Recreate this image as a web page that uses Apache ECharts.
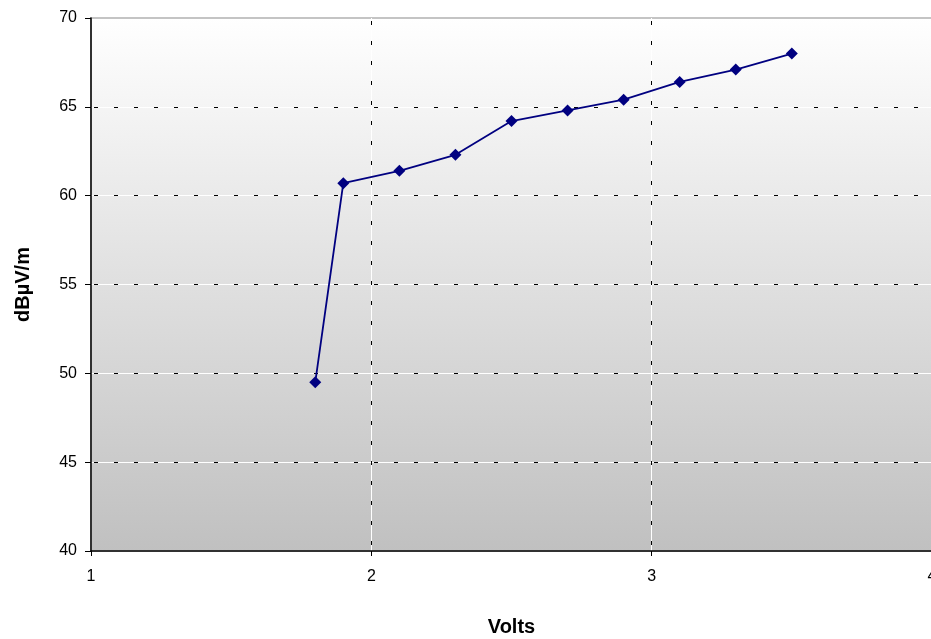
<!DOCTYPE html>
<html><head><meta charset="utf-8">
<script src="https://cdn.jsdelivr.net/npm/echarts@6/dist/echarts.min.js"></script>
<style>html,body{margin:0;padding:0;background:#fff}#c{width:931px;height:639px}</style>
</head><body><div id="c"></div>
<script>
const volts = [1.8, 1.9, 2.1, 2.3, 2.5, 2.7, 2.9, 3.1, 3.3, 3.5];
const dbuv = [49.5, 60.7, 61.4, 62.3, 64.2, 64.8, 65.4, 66.4, 67.1, 68.0];
const xTitle = 'Volts';
const yTitle = 'dBµV/m';

const chart = echarts.init(document.getElementById('c'));
const font = 'Liberation Sans, Arial, sans-serif';
const baseX = {type:'value', min:1, max:4, interval:1};
const baseY = {type:'value', min:40, max:70, interval:5};
chart.setOption({
  animation:false,
  grid:{left:91, top:18, right:-1, bottom:88, show:true, borderWidth:2, borderColor:'#c4c4c4',
    outerBoundsMode:'none', containLabel:false,
    backgroundColor:{type:'linear',x:0,y:0,x2:0,y2:1,colorStops:[{offset:0,color:'#ffffff'},{offset:1,color:'#c0c0c0'}]}},
  xAxis:[
    Object.assign({}, baseX, {
      name:xTitle, nameLocation:'middle', nameGap:66,
      nameTextStyle:{fontFamily:font, fontSize:20, fontWeight:'bold', color:'#000'},
      axisLine:{show:true, onZero:false, lineStyle:{color:'#000', width:1.5}},
      axisTick:{show:true, length:5, lineStyle:{color:'#000'}},
      axisLabel:{fontFamily:font, fontSize:16, color:'#000', margin:18},
      splitLine:{show:true, showMinLine:false, lineStyle:{color:'#ffffff', width:1, type:'solid'}}
    }),
    Object.assign({}, baseX, {
      position:'bottom', axisLine:{show:false}, axisTick:{show:false}, axisLabel:{show:false},
      splitLine:{show:true, showMinLine:false, lineStyle:{color:'#000', width:1, type:[4,16], dashOffset:-3}}
    })
  ],
  yAxis:[
    Object.assign({}, baseY, {
      name:yTitle, nameLocation:'middle', nameGap:58,
      nameTextStyle:{fontFamily:font, fontSize:20, fontWeight:'bold', color:'#000'},
      axisLine:{show:true, onZero:false, lineStyle:{color:'#000', width:1.5}},
      axisTick:{show:true, length:6, lineStyle:{color:'#000'}},
      axisLabel:{fontFamily:font, fontSize:16, color:'#000', margin:14},
      splitLine:{show:true, showMaxLine:false, showMinLine:false, lineStyle:{color:'#ffffff', width:1, type:'solid'}}
    }),
    Object.assign({}, baseY, {
      position:'left', axisLine:{show:false}, axisTick:{show:false}, axisLabel:{show:false},
      splitLine:{show:true, showMaxLine:false, showMinLine:false, lineStyle:{color:'#000', width:1, type:[4,16], dashOffset:-3}}
    })
  ],
  series:[{
    type:'line', xAxisIndex:0, yAxisIndex:0,
    data: volts.map((v,i)=>[v, dbuv[i]]),
    symbol:'diamond', symbolSize:12,
    lineStyle:{color:'#000080', width:1.8},
    itemStyle:{color:'#000080'}
  }]
});
</script></body></html>
